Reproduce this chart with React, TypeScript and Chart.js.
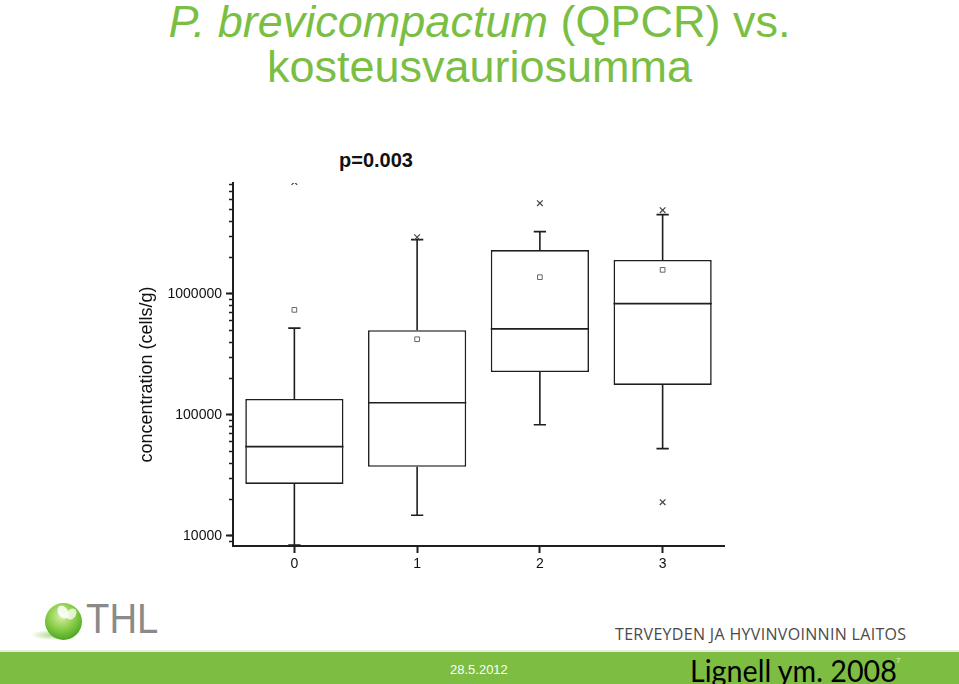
import React, { useEffect, useRef } from "react";
import { Chart, registerables } from "chart.js";

Chart.register(...registerables);

// ---- data ----
const categories = [0, 1, 2, 3];
const xTickLabels = ["0", "1", "2", "3"];
const whiskerLow = [8400, 14800, 83000, 52600];
const q1 = [26900, 37200, 226000, 177000];
const median = [54700, 126000, 514000, 831000];
const q3 = [135500, 501000, 2300000, 1910000];
const whiskerHigh = [521000, 2810000, 3270000, 4520000];
const means = [738000, 422000, 1374000, 1580000];
const outlierCategory = [0, 1, 2, 3, 3];
const outlierValues = [8400000, 2940000, 5620000, 4920000, 19000];
const yMajorTicks = [10000, 100000, 1000000];
const yMin = 8250;
const yMax = 8250000;

const BOX_HALF = 0.4;
const CAP_HALF = 0.05;
const FONT = "'Liberation Sans', Arial, sans-serif";
const INK = "#1e1e1e";

function minorTicks(): number[] {
  const out: number[] = [];
  for (let e = 3; e <= 6; e++) {
    for (let m = 1; m <= 9; m++) {
      const v = m * Math.pow(10, e);
      if (v >= yMin && v <= yMax) out.push(v);
    }
  }
  return out;
}

function buildSegments() {
  const med: any[] = [];
  const whisk: any[] = [];
  const caps: any[] = [];
  categories.forEach((c, i) => {
    med.push({ x: c - BOX_HALF, y: median[i] }, { x: c + BOX_HALF, y: median[i] }, { x: c + 0.45, y: null });
    whisk.push({ x: c, y: whiskerLow[i] }, { x: c, y: q1[i] }, { x: c, y: null });
    whisk.push({ x: c, y: q3[i] }, { x: c, y: whiskerHigh[i] }, { x: c, y: null });
    caps.push({ x: c - CAP_HALF, y: whiskerLow[i] }, { x: c + CAP_HALF, y: whiskerLow[i] }, { x: c + 0.1, y: null });
    caps.push({ x: c - CAP_HALF, y: whiskerHigh[i] }, { x: c + CAP_HALF, y: whiskerHigh[i] }, { x: c + 0.1, y: null });
  });
  return { med, whisk, caps };
}

function BoxChart() {
  const ref = useRef<HTMLCanvasElement | null>(null);
  useEffect(() => {
    if (!ref.current) return;
    const { med, whisk, caps } = buildSegments();
    const lineDs = (data: any[]) => ({
      type: "line" as const,
      data,
      borderColor: INK,
      borderWidth: 1.6,
      pointRadius: 0,
      pointHitRadius: 0,
      spanGaps: false,
      tension: 0,
      order: 2,
    });
    const chart = new Chart(ref.current, {
      type: "bar",
      data: {
        datasets: [
          {
            type: "bar",
            data: categories.map((c, i) => ({ x: c, y: [q1[i], q3[i]] })) as any,
            backgroundColor: "#ffffff",
            borderColor: INK,
            borderWidth: 1.6,
            borderSkipped: false,
            barPercentage: 1,
            categoryPercentage: 0.8,
            order: 3,
          } as any,
          lineDs(med) as any,
          lineDs(whisk) as any,
          lineDs(caps) as any,
          {
            type: "line",
            data: categories.map((c, i) => ({ x: c, y: means[i] })),
            showLine: false,
            pointStyle: "rect",
            pointRadius: 3.3,
            pointBorderColor: "#666",
            pointBackgroundColor: "#fff",
            pointBorderWidth: 1,
            order: 1,
          } as any,
          {
            type: "line",
            data: outlierValues.map((v, i) => ({ x: outlierCategory[i], y: v })),
            showLine: false,
            pointStyle: "crossRot",
            pointRadius: 4,
            pointBorderColor: "#444",
            pointBorderWidth: 1.2,
            clip: 0,
            order: 1,
          } as any,
        ],
      },
      options: {
        animation: false,
        responsive: true,
        maintainAspectRatio: false,
        events: [],
        layout: { padding: { left: 36, top: 43, right: 26, bottom: 14 } },
        plugins: {
          legend: { display: false },
          tooltip: { enabled: false },
          title: { display: false },
        },
        scales: {
          x: {
            type: "linear",
            min: -0.5,
            max: 3.5,
            offset: false,
            afterBuildTicks: (s: any) => {
              s.ticks = categories.map((v) => ({ value: v }));
            },
            afterFit: (s: any) => {
              s.height = 30;
            },
            ticks: {
              autoSkip: false,
              maxRotation: 0,
              padding: 3,
              color: "#111",
              font: { family: FONT, size: 14 },
              callback: (v: any) => {
                const k = categories.indexOf(Number(v));
                return k >= 0 ? xTickLabels[k] : "";
              },
            },
            grid: {
              display: true,
              drawOnChartArea: false,
              drawTicks: true,
              tickLength: 7,
              tickWidth: 2,
              tickColor: INK,
              offset: false,
            },
            border: { display: true, color: INK, width: 2 },
          },
          y: {
            type: "logarithmic",
            position: "left",
            weight: 1,
            min: yMin,
            max: yMax,
            afterBuildTicks: (s: any) => {
              s.ticks = yMajorTicks.map((v) => ({ value: v, major: true }));
            },
            afterFit: (s: any) => {
              s.width = 97;
            },
            ticks: {
              autoSkip: false,
              padding: 4,
              color: "#111",
              font: { family: FONT, size: 14 },
              callback: (v: any) => String(v),
            },
            grid: {
              display: true,
              drawOnChartArea: false,
              drawTicks: true,
              tickLength: 7,
              tickWidth: 2,
              tickColor: INK,
            },
            border: { display: true, color: INK, width: 2 },
            title: {
              display: true,
              text: "concentration (cells/g)" + "\u00a0\u00a0\u00a0\u00a0",
              color: "#111",
              font: { family: FONT, size: 18 },
              padding: 0,
            },
          },
          y2: {
            type: "logarithmic",
            position: "left",
            weight: 0,
            min: yMin,
            max: yMax,
            afterBuildTicks: (s: any) => {
              s.ticks = minorTicks().map((v) => ({ value: v }));
            },
            afterFit: (s: any) => {
              s.width = 0;
            },
            ticks: { display: false, autoSkip: false },
            grid: {
              display: true,
              drawOnChartArea: false,
              drawTicks: true,
              tickLength: 4,
              tickWidth: 1.5,
              tickColor: INK,
            },
            border: { display: true, color: INK, width: 2 },
          },
        } as any,
      },
    });
    return () => chart.destroy();
  }, []);
  return <canvas ref={ref} />;
}

export default function App() {
  const green = "#7abf43";
  return (
    <div
      style={{
        position: "absolute",
        left: 0,
        top: 0,
        width: 959,
        height: 684,
        background: "#ffffff",
        overflow: "hidden",
        fontFamily: FONT,
      }}
    >
      <div
        style={{
          position: "absolute",
          left: 0,
          top: -1,
          width: 959,
          textAlign: "center",
          color: green,
          fontSize: 45,
          lineHeight: "45px",
        }}
      >
        <div>
          <i>P. brevicompactum</i> (QPCR) vs.
        </div>
        <div>kosteusvauriosumma</div>
      </div>

      <div
        style={{
          position: "absolute",
          left: 276,
          top: 150,
          width: 200,
          textAlign: "center",
          fontWeight: "bold",
          fontSize: 20,
          lineHeight: "20px",
          color: "#111",
        }}
      >
        p=0.003
      </div>

      <div style={{ position: "absolute", left: 100, top: 140, width: 650, height: 450 }}>
        <BoxChart />
      </div>

      {/* THL logo */}
      <div
        style={{
          position: "absolute",
          left: 32,
          top: 630,
          width: 34,
          height: 10,
          borderRadius: "50%",
          background: "radial-gradient(ellipse at 60% 50%, rgba(140,200,90,0.7), rgba(200,235,170,0.1) 70%)",
        }}
      />
      <div
        style={{
          position: "absolute",
          left: 45,
          top: 603,
          width: 37,
          height: 37,
          borderRadius: "50%",
          background: "radial-gradient(circle at 45% 35%, #d8f0b0 0%, #8fd04c 40%, #4fa825 75%, #2f7f14 100%)",
        }}
      />
      <div
        style={{
          position: "absolute",
          left: 58,
          top: 605,
          width: 10,
          height: 14,
          borderRadius: "50%",
          background: "rgba(255,255,255,0.85)",
          transform: "rotate(-30deg)",
        }}
      />
      <div
        style={{
          position: "absolute",
          left: 67,
          top: 608,
          width: 9,
          height: 12,
          borderRadius: "50%",
          background: "rgba(255,255,255,0.75)",
          transform: "rotate(35deg)",
        }}
      />
      <div
        style={{
          position: "absolute",
          left: 86,
          top: 597,
          fontSize: 43,
          lineHeight: "43px",
          color: "#8a8a8a",
          transform: "scaleX(0.89)",
          transformOrigin: "left top",
          whiteSpace: "nowrap",
        }}
      >
        THL
      </div>

      <div
        style={{
          position: "absolute",
          left: 615,
          top: 626,
          fontFamily: "'Open Sans', sans-serif",
          fontSize: 16,
          lineHeight: "16px",
          color: "#4a4a4a",
          whiteSpace: "nowrap",
          letterSpacing: 0.32,
        }}
      >
        TERVEYDEN JA HYVINVOINNIN LAITOS
      </div>

      <div
        style={{
          position: "absolute",
          left: 0,
          top: 650,
          width: 959,
          height: 2,
          background: "#e3eedb",
        }}
      />
      <div
        style={{
          position: "absolute",
          left: 0,
          top: 652,
          width: 959,
          height: 32,
          background: "#7cbd42",
        }}
      />
      <div
        style={{
          position: "absolute",
          left: 450,
          top: 662,
          fontSize: 13,
          lineHeight: "15px",
          color: "#ffffff",
          whiteSpace: "nowrap",
        }}
      >
        28.5.2012
      </div>
      <div
        style={{
          position: "absolute",
          left: 690,
          top: 652,
          fontFamily: "Lato, sans-serif",
          fontSize: 31,
          lineHeight: "36px",
          color: "#000",
          whiteSpace: "nowrap",
          transform: "scaleX(0.925)",
          transformOrigin: "left top",
        }}
      >
        Lignell ym. 2008
      </div>
      <div
        style={{
          position: "absolute",
          left: 896,
          top: 657,
          fontSize: 8,
          lineHeight: "8px",
          color: "#e8f2de",
        }}
      >
        7
      </div>
    </div>
  );
}
